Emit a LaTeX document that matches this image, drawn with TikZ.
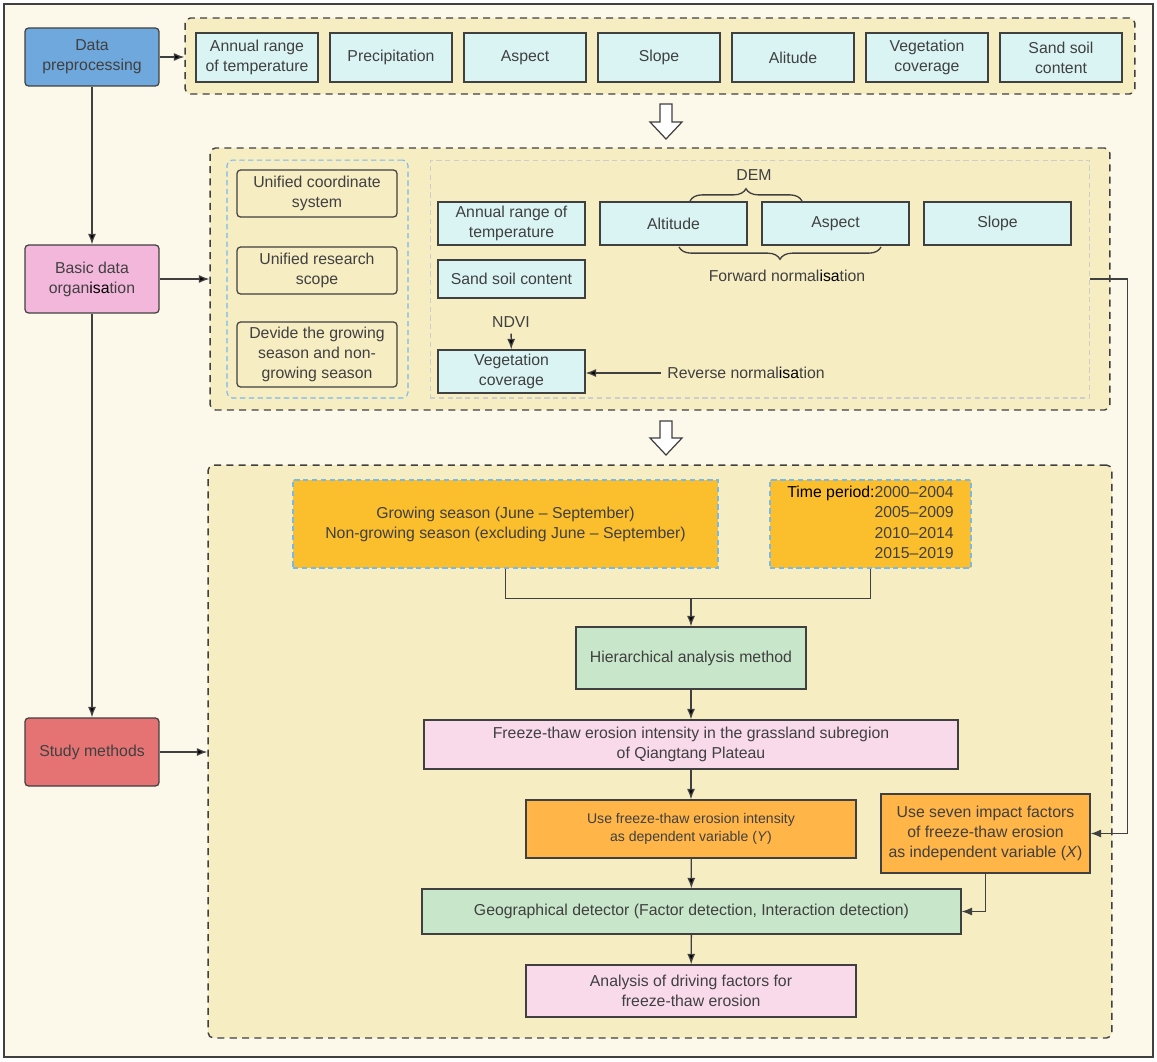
\documentclass[tikz,border=0pt]{standalone}
\usepackage{fontspec}
\setmainfont{Liberation Sans}
\usepackage{xcolor}
\usepackage{tikz}
\usetikzlibrary{calc,shapes,arrows,arrows.meta,positioning,decorations.pathreplacing}
\definecolor{ink}{RGB}{64,64,64}
\definecolor{cream}{RGB}{252,248,234}
\definecolor{panel}{RGB}{246,237,195}
\definecolor{cyanbox}{RGB}{218,244,244}
\definecolor{prepblue}{RGB}{111,168,220}
\definecolor{basicpink}{RGB}{244,183,220}
\definecolor{methodred}{RGB}{229,115,115}
\definecolor{seasonyel}{RGB}{251,191,45}
\definecolor{varorange}{RGB}{255,181,71}
\definecolor{mint}{RGB}{200,230,201}
\definecolor{blush}{RGB}{248,218,234}
\definecolor{dashblue}{RGB}{120,185,235}
\definecolor{dashgray}{RGB}{205,205,205}
\newcommand{\isa}{{\color{black}isa}}

\begin{document}
\begin{tikzpicture}[x=0.02cm,y=-0.02cm,font=\fontsize{9}{11.4}\selectfont,text=ink,>={Latex[length=6pt,width=4.6pt]}]
    \tikzstyle{box}=[draw=ink,line width=0.7pt,align=center,inner sep=2pt]
    \tikzstyle{step box}=[box,rounded corners=2pt,minimum width=2.68cm]
    \tikzstyle{factor}=[box,fill=cyanbox,minimum width=2.44cm,minimum height=0.98cm]
    \tikzstyle{layer}=[box,fill=cyanbox,minimum width=2.94cm,minimum height=0.86cm]
    \tikzstyle{group}=[draw=ink,line width=0.8pt,dash pattern=on 4pt off 3pt,fill=panel,rounded corners=3pt,inner sep=0pt]
    \tikzstyle{season}=[box,fill=seasonyel,draw=dashblue,dash pattern=on 3pt off 2pt,minimum height=1.76cm]
    \tikzstyle{line}=[draw=ink,line width=0.75pt]
    \tikzstyle{hollow}=[draw=ink,line width=0.7pt,fill=white]

    % frame
    \useasboundingbox (0,0) rectangle (1157,1062);
    \draw[fill=cream,draw=ink,line width=0.9pt] (4,4) rectangle (1153,1057);

    % left column
    \node[step box,fill=prepblue,minimum height=1.16cm] (prep) at (92,57) {Data\\preprocessing};
    \node[step box,fill=basicpink,minimum height=1.36cm] (basic) at (92,279) {Basic data\\organ\isa tion};
    \node[step box,fill=methodred,minimum height=1.36cm] (methods) at (92,752) {Study methods};

    % data preprocessing
    \node[group,minimum width=19cm,minimum height=1.52cm] (raw) at (660,56) {};
    \foreach \n/\x/\t in {temp/257/{Annual range\\of temperature},prec/391/Precipitation,asp/525/Aspect,
                          slo/659/Slope,alt/793/Alitude,veg/927/{Vegetation\\coverage},sand/1061/{Sand soil\\content}}
        \node[factor] (raw\n) at (\x,57.5) {\t};

    \draw[hollow] (660,104) -- (672,104) -- (672,122) -- (682,122) -- (666,139) -- (650,122) -- (660,122) -- cycle;

    % basic data organisation
    \node[group,minimum width=18cm,minimum height=5.24cm] (org) at (660,279) {};
    \node[draw=dashblue,dash pattern=on 3pt off 2pt,rounded corners=3pt,line width=0.6pt,minimum width=3.62cm,minimum height=4.76cm] (unify) at (317.5,279) {};
    \node[draw=dashgray,dash pattern=on 3pt off 2pt,line width=0.6pt,minimum width=13.2cm,minimum height=4.76cm] (norm) at (760,279) {};

    \node[box,fill=panel,rounded corners=2pt,minimum width=3.2cm,minimum height=0.94cm] (coord) at (317,193.5) {Unified coordinate\\system};
    \node[box,fill=panel,rounded corners=2pt,minimum width=3.2cm,minimum height=0.94cm] (scope) at (317,270.5) {Unified research\\scope};
    \node[box,fill=panel,rounded corners=2pt,minimum width=3.2cm,minimum height=1.3cm] (divide) at (317,354.5) {Devide the growing\\season and non-\\growing season};

    \node[layer] (temp) at (511.5,223.5) {Annual range of\\temperature};
    \node[layer,minimum height=0.76cm] (sand) at (511.5,279) {Sand soil content};
    \node[layer] (veg) at (511.5,371.5) {Vegetation\\coverage};
    \node[layer] (alt) at (673.5,223.5) {Altitude};
    \node[layer] (asp) at (835.5,223.5) {Aspect};
    \node[layer] (slo) at (997.5,223.5) {Slope};

    \node (dem) at (754,175) {DEM};
    \node (fwd) at (787,276) {Forward normal\isa tion};
    \node (ndvi) at (511,322) {NDVI};
    \node (rev) at (746,373) {Reverse normal\isa tion};
    \draw[line,decorate,decoration={brace,amplitude=7pt}] (690,201) -- (802,201);
    \draw[line,decorate,decoration={brace,amplitude=7pt}] (881,247) -- (679,247);

    \draw[hollow] (660,421) -- (672,421) -- (672,438) -- (682,438) -- (666,455) -- (650,438) -- (660,438) -- cycle;

    % study methods
    \node[group,minimum width=18.08cm,minimum height=11.46cm] (study) at (660,751.5) {};
    \node[season,minimum width=8.5cm] (season) at (505.5,524) {Growing season (June -- September)\\Non-growing season (excluding June -- September)};
    \node[season,minimum width=4.02cm] (period) at (870.5,524) {%
        \begin{tabular}{@{}r@{}l@{}}{\color{black}Time period:}&2000--2004\\ &2005--2009\\ &2010--2014\\ &2015--2019\end{tabular}};
    \coordinate (join) at (691,598);
    \node[box,fill=mint,minimum width=4.6cm,minimum height=1.24cm] (ahp) at (691,658) {Hierarchical analysis method};
    \node[box,fill=blush,minimum width=10.68cm,minimum height=0.98cm] (intensity) at (691,744.5) {Freeze-thaw erosion intensity in the grassland subregion\\of Qiangtang Plateau};
    \node[box,fill=varorange,minimum width=6.6cm,minimum height=1.16cm,font=\fontsize{8}{10.5}\selectfont] (depvar) at (691,829) {Use freeze-thaw erosion intensity\\as dependent variable (\textit{Y})};
    \node[box,fill=varorange,minimum width=4.18cm,minimum height=1.58cm] (indvar) at (985.5,833.5) {Use seven impact factors\\of freeze-thaw erosion\\as independent variable (\textit{X})};
    \node[box,fill=mint,minimum width=10.78cm,minimum height=0.9cm] (geo) at (691.5,911.5) {Geographical detector (Factor detection, Interaction detection)};
    \node[box,fill=blush,minimum width=6.6cm,minimum height=1.04cm] (drive) at (691,991) {Analysis of driving factors for\\freeze-thaw erosion};

    \path[line]
    (prep) edge [->] (basic)
    (basic) edge [->] (methods)
    (prep.east) edge [->] (prep.east -| raw.west)
    (basic.east) edge [->] (basic.east -| org.west)
    (methods.east) edge [->] (methods.east -| study.west)
    (ndvi) edge [->] (veg)
    (rev) edge [->] (veg.east |- rev.west)
    (join) edge [->] (ahp)
    (ahp) edge [->] (intensity)
    (intensity) edge [->] (depvar)
    (depvar) edge [->] (geo)
    (geo) edge [->] (drive);
    \draw[line] (season.south) -- ++(0,30) -| (period.south);
    \draw[line,->] (indvar.south) |- (geo.east);
    \draw[line,->] (norm.east) -- ++(37,0) |- (indvar.east);
\end{tikzpicture}
\end{document}
